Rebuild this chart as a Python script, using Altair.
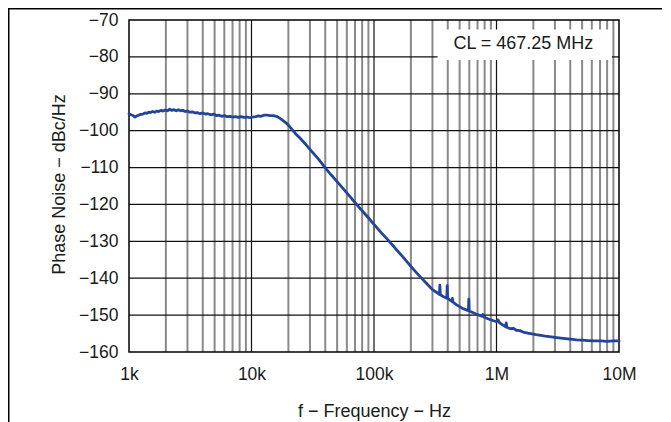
import altair as alt
import pandas as pd

# ---- data ----
freq_hz = [
    1000, 1040, 1080, 1120, 1160, 1200, 1250, 1300, 1350, 1400, 1450, 1500,
    1560, 1620, 1680, 1750, 1820, 1900, 1980, 2060, 2150, 2240, 2330, 2430,
    2530, 2640, 2750, 2870, 3000, 3150, 3300, 3450, 3600, 3800, 4000, 4200,
    4400, 4650, 4900, 5150, 5400, 5700, 6000, 6300, 6650, 7000, 7400, 7800,
    8200, 8700, 9200, 9700, 10200, 10800, 11400, 12000, 12700, 13400, 14200,
    15000, 16000, 17000, 18000, 19000, 20000, 21000, 22000, 23000, 24500,
    26500, 28500, 31000, 34000, 37000, 40000, 45000, 50000, 56000, 63000,
    70000, 80000, 90000, 100000, 115000, 130000, 150000, 170000, 190000,
    210000, 240000, 270000, 300000, 330000, 342000, 345000, 348000, 370000,
    393000, 396000, 399000, 420000, 435000, 437000, 440000, 470000, 500000,
    530000, 560000, 590000, 594000, 598000, 640000, 680000, 720000, 760000,
    775000, 790000, 850000, 920000, 1000000, 1030000, 1060000, 1130000,
    1190000, 1200000, 1215000, 1300000, 1380000, 1450000, 1550000, 1650000,
    1800000, 1950000, 2100000, 2300000, 2500000, 2800000, 3100000, 3500000,
    4000000, 4500000, 5000000, 5600000, 6300000, 7100000, 8000000, 9000000,
    10000000,
]
phase_noise_dbc = [
    -95.4, -95.7, -95.9, -96.3, -96.0, -95.8, -95.6, -95.5, -95.2, -95.3, -95.0, -95.1,
    -94.8, -95.0, -94.7, -94.8, -94.5, -94.7, -94.4, -94.6, -94.2, -94.5, -94.3, -94.6,
    -94.3, -94.6, -94.5, -94.8, -94.7, -95.0, -94.9, -95.2, -95.1, -95.4, -95.2, -95.5,
    -95.4, -95.7, -95.5, -95.9, -95.8, -96.1, -95.9, -96.2, -96.1, -96.3, -96.2, -96.4,
    -96.2, -96.4, -96.3, -96.5, -96.3, -96.2, -96.0, -96.1, -95.8, -95.8, -95.9,
    -95.9, -96.1, -96.6, -97.2, -97.8, -98.5, -99.3, -100.1, -100.9, -101.8,
    -103.0, -104.2, -105.6, -107.1, -108.6, -110.1, -112.1, -113.8, -115.7, -117.7,
    -119.5, -121.7, -123.6, -125.4, -127.7, -129.6, -132.0, -134.0, -135.9,
    -137.6, -139.7, -141.5, -143.1, -144.0, -144.4, -141.9, -144.5, -145.0,
    -145.4, -142.0, -145.4, -146.0, -146.3, -145.5, -146.4, -147.2, -147.7,
    -148.2, -148.5, -148.8, -145.7, -148.9, -149.3, -149.7, -150.0, -150.3,
    -149.8, -150.5, -151.0, -151.4, -151.8, -151.3, -152.1, -152.7,
    -153.2, -152.1, -153.3, -153.7, -153.6, -154.1, -154.2, -154.6,
    -154.9, -155.1, -155.3, -155.5, -155.7, -155.9, -156.1, -156.3,
    -156.5, -156.7, -156.8, -156.9, -157.0, -157.0, -157.1, -157.0,
    -157.0,
]

x_tick_values = [1000, 10000, 100000, 1000000, 10000000]
x_tick_labels = ["1k", "10k", "100k", "1M", "10M"]
y_tick_values = [-160, -150, -140, -130, -120, -110, -100, -90, -80, -70]
y_tick_labels = ["−160", "−150", "−140", "−130", "−120", "−110", "−100", "−90", "−80", "−70"]

major_grid = [10000, 100000, 1000000]
minor_grid = [2000, 3000, 4000, 5000, 6000, 7000, 8000, 9000,
              20000, 30000, 40000, 50000, 60000, 70000, 80000, 90000,
              200000, 300000, 400000, 500000, 600000, 700000, 800000, 900000,
              2000000, 3000000, 4000000, 5000000, 6000000, 7000000, 8000000, 9000000]
h_grid = [-150, -140, -130, -120, -110, -100, -90, -80]

note_text = "CL = 467.25 MHz"
note_x = 1.656e6
note_y = -77.94
box_x = [3.306e5, 8.75e6]
box_y = [-72.6, -80.85]

FONT = "Liberation Sans"
LINE_COLOR = "#22449b"

def ternary(values, labels):
    expr = "''"
    for v, l in reversed(list(zip(values, labels))):
        expr = f"datum.value == {v} ? '{l}' : ({expr})"
    return expr

xscale = alt.Scale(type="log", domain=[1000, 10000000], nice=False)
yscale = alt.Scale(domain=[-160, -70], nice=False)

x_axis = alt.Axis(
    values=x_tick_values, labelExpr=ternary(x_tick_values, x_tick_labels),
    grid=False, ticks=False, tickSize=0, domain=False,
    labelFont=FONT, labelFontSize=17.5, labelColor="#1a1a1a",
    labelPadding=27, labelBaseline="alphabetic", labelFlush=False, labelOverlap=False,
    title="f − Frequency − Hz", titleFont=FONT, titleFontSize=18,
    titleFontWeight="normal", titleColor="#1a1a1a",
    titleX=245, titleY=64.5, titleBaseline="alphabetic", titleAlign="center",
)
y_axis = alt.Axis(
    values=y_tick_values, labelExpr=ternary(y_tick_values, y_tick_labels),
    grid=False, ticks=False, tickSize=0, domain=False,
    labelFont=FONT, labelFontSize=17.5, labelColor="#1a1a1a",
    labelPadding=11, labelBaseline="middle", labelFlush=False, labelOverlap=False,
    title="Phase Noise − dBc/Hz", titleFont=FONT, titleFontSize=18,
    titleFontWeight="normal", titleColor="#1a1a1a",
    titleX=-65, titleY=164, titleAngle=-90, titleBaseline="alphabetic", titleAlign="center",
)

X = lambda f: alt.X(f"{f}:Q", scale=xscale, axis=x_axis)
Y = lambda f: alt.Y(f"{f}:Q", scale=yscale, axis=y_axis)

curve_df = pd.DataFrame({"f": freq_hz, "db": phase_noise_dbc})

minor = alt.Chart(pd.DataFrame({"f": minor_grid})).mark_rule(
    color="#8a8a8a", strokeWidth=2).encode(x=X("f"))
major = alt.Chart(pd.DataFrame({"f": major_grid})).mark_rule(
    color="#111111", strokeWidth=1.2).encode(x=X("f"))
hgrid = alt.Chart(pd.DataFrame({"db": h_grid})).mark_rule(
    color="#111111", strokeWidth=1.2).encode(y=Y("db"))

box = alt.Chart(pd.DataFrame({"f": [box_x[0]], "f2": [box_x[1]],
                              "db": [box_y[0]], "db2": [box_y[1]]})).mark_rect(
    color="white").encode(x=X("f"), x2="f2", y=Y("db"), y2="db2")
note = alt.Chart(pd.DataFrame({"f": [note_x], "db": [note_y], "t": [note_text]})).mark_text(
    font=FONT, fontSize=18, color="#1a1a1a", align="center", baseline="alphabetic"
).encode(x=X("f"), y=Y("db"), text="t:N")

curve = alt.Chart(curve_df).mark_line(
    color=LINE_COLOR, strokeWidth=2.8, strokeJoin="round", strokeCap="round"
).encode(x=X("f"), y=Y("db"))

SVG_W, SVG_H = 655, 414
PAD_L, PAD_T, W, H = 121, 12, 490, 332

dummy = pd.DataFrame({"a": [0]})
frame = alt.Chart(dummy).mark_rect(fill=None, stroke="black", strokeWidth=1.5).encode(
    x=alt.value(0), x2=alt.value(W), y=alt.value(0), y2=alt.value(H))
top_line = alt.Chart(dummy).mark_rect(color="black").encode(
    x=alt.value(-PAD_L), x2=alt.value(SVG_W - PAD_L - 1),
    y=alt.value(-PAD_T), y2=alt.value(-PAD_T + 1.5))
left_line = alt.Chart(dummy).mark_rect(color="black").encode(
    x=alt.value(-PAD_L), x2=alt.value(-PAD_L + 1.5),
    y=alt.value(-PAD_T), y2=alt.value(SVG_H - PAD_T))

chart = alt.layer(minor, major, hgrid, frame, box, note, curve, top_line, left_line).properties(
    width=W, height=H,
    autosize=alt.AutoSizeParams(type="none"),
    padding={"left": PAD_L, "top": PAD_T, "right": SVG_W - PAD_L - W, "bottom": SVG_H - PAD_T - H},
    background="white",
).configure_view(strokeWidth=0)

chart.save("out.html", embed_options={"renderer": "svg", "actions": False})
